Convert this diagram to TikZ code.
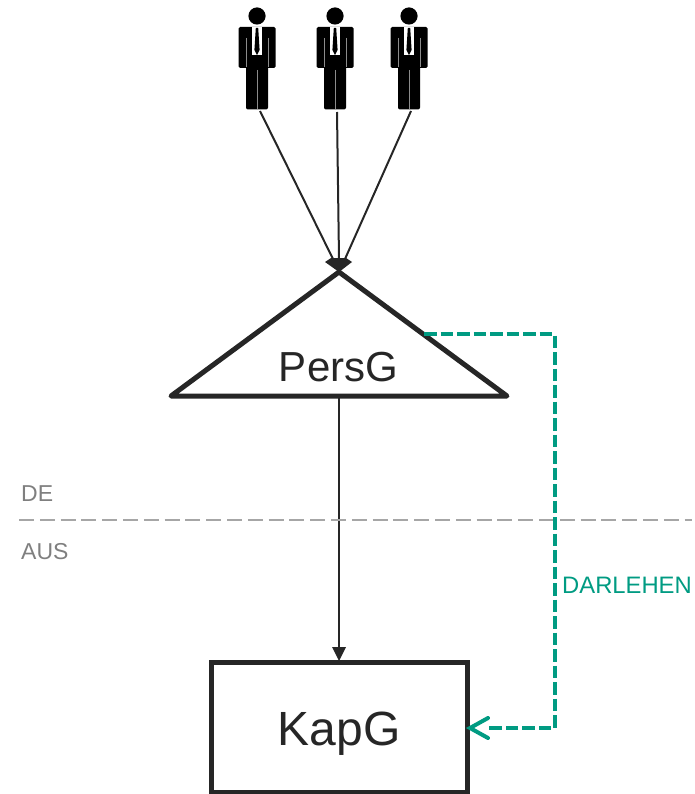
\documentclass[tikz,border=0pt]{standalone}
\usepackage{fontspec}
\setmainfont{Liberation Sans}
\usetikzlibrary{arrows.meta}
\definecolor{ink}{HTML}{262626}
\definecolor{teal}{HTML}{009B82}
\definecolor{rulegrey}{HTML}{A6A6A6}
\definecolor{labelgrey}{HTML}{7F7F7F}
\tikzset{
 x=1pt,y=-1pt,
 conn/.style={draw=ink,line width=2pt},
 shapeline/.style={draw=ink,line width=5pt,line join=round,line cap=round},
 big/.style={text=ink,inner sep=0pt,font=\fontsize{42pt}{42pt}\selectfont},
 bigk/.style={text=ink,inner sep=0pt,font=\fontsize{48pt}{48pt}\selectfont},
 side/.style={text=labelgrey,inner sep=0pt,font=\fontsize{23pt}{23pt}\selectfont},
 loan/.style={draw=teal,line width=4pt,dash pattern=on 12.5pt off 4pt,line join=round},
 person/.pic={
  \fill[black] (0,16) circle[radius=8.6];
  \fill[black,rounded corners=1.5pt] (-18.5,27) rectangle (18.5,68);
  \fill[black,rounded corners=2pt] (-11,60) rectangle (11,109.5);
  \fill[white] (-5,27.5) -- (5,27.5) -- (5,55.5) -- (-5,55.5) -- cycle;
  \fill[black] (-1.2,28) -- (1.2,28) -- (2.6,50) -- (0,55) -- (-2.6,50) -- cycle;
  \draw[white!55!black,line width=1pt] (-11,38) -- (-11,67);
  \draw[white!55!black,line width=1pt] (11,38) -- (11,67);
  \draw[white!55!black,line width=1pt] (0,70) -- (0,109);
 },
}
\begin{document}
\begin{tikzpicture}
\useasboundingbox (0,0) rectangle (694,794);
% persons
\pic at (257,0) {person};
\pic at (335,0) {person};
\pic at (409,0) {person};
\coordinate (p1) at (260,111);
\coordinate (p2) at (337,112);
\coordinate (p3) at (411,111);
% triangle
\coordinate (apex) at (339,272);
\coordinate (tl) at (171,396);
\coordinate (tr) at (507,396);
\coordinate (base) at (339,396);
\coordinate (tside) at (424,334);
\draw[shapeline] (apex) -- (tr) -- (tl) -- cycle;
\node[big,anchor=center] (pers) at (338.5,367.5) {PersG};
% box
\node[draw=ink,line width=5pt,minimum width=256pt,minimum height=130pt,inner sep=0pt,anchor=center] (kap) at (339.5,727.5) {};
\node[bigk,anchor=center] (kaplabel) at (339,734) {KapG};
% arrows to triangle
\fill[ink] (325,262) -- (331,258) -- (346,258) -- (352,262) -- (apex) -- cycle;
\draw[conn] (p1) -- (333,259);
\draw[conn] (p2) -- (339,259);
\draw[conn] (p3) -- (345,259);
% PersG to KapG
\draw[conn] (base) -- (339,650);
\fill[ink] (332,647) -- (339,661) -- (346,647) -- cycle;
% border
\coordinate (dl) at (19,520);
\coordinate (dr) at (692,520);
\draw[rulegrey,line width=2pt,dash pattern=on 15pt off 5.8pt] (dl) -- (dr);
\node[side,anchor=west] (de) at (21,494) {DE};
\node[side,anchor=west] (aus) at (21,551.5) {AUS};
% loan
\coordinate (c1) at (554.5,334);
\coordinate (c2) at (554.5,728);
\coordinate (tip) at (470,728);
\draw[loan] (tside) -- (c1) -- (c2) -- (487,728);
\draw[draw=teal,line width=4pt,line cap=round,line join=miter] (488,718) -- (tip) -- (488,738);
\node[text=teal,inner sep=0pt,anchor=west,font=\fontsize{23.8pt}{23.8pt}\selectfont] (loanlabel) at (562,585) {DARLEHEN};
\end{tikzpicture}
\end{document}
